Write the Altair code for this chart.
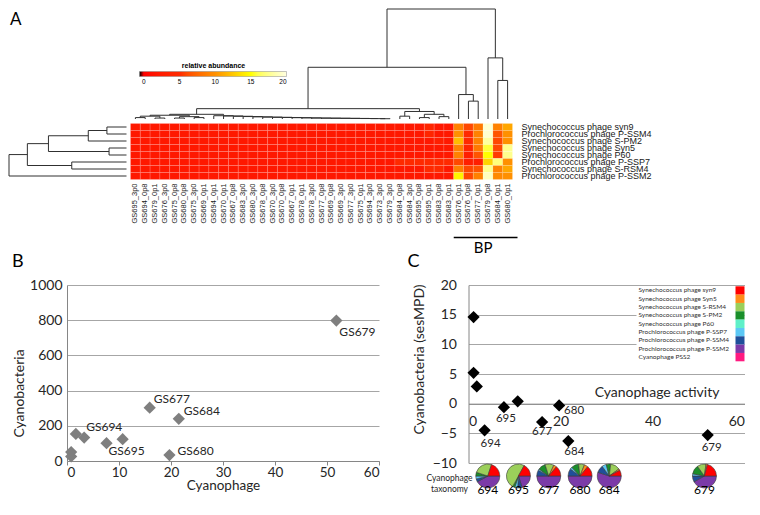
import altair as alt
import pandas as pd

# ---------------- DATA ----------------
phages = ["Synechococcus phage syn9", "Prochlorococcus phage P-SSM4", "Synechococcus phage S-PM2",
          "Synechococcus phage Syn5", "Synechococcus phage P60", "Prochlorococcus phage P-SSP7",
          "Synechococcus phage S-RSM4", "Prochlorococcus phage P-SSM2"]

samples = ["GS695_3p0", "GS694_0p8", "GS679_0p1", "GS676_3p0", "GS675_0p8", "GS680_0p8", "GS675_3p0",
           "GS669_0p1", "GS694_0p1", "GS670_0p1", "GS667_0p8", "GS683_3p0", "GS680_3p0", "GS678_0p8",
           "GS670_3p0", "GS670_0p8", "GS667_0p1", "GS678_0p1", "GS678_3p0", "GS677_0p8", "GS669_0p8",
           "GS669_3p0", "GS677_3p0", "GS675_0p1", "GS694_3p0", "GS673_3p0", "GS679_3p0", "GS684_0p8",
           "GS684_3p0", "GS695_0p8", "GS695_0p1", "GS683_0p8", "GS683_0p1", "GS676_0p1", "GS676_0p8",
           "GS677_0p1", "GS679_0p8", "GS684_0p1", "GS680_0p1"]

# relative abundance, one list per phage (row), 39 samples each
ab_syn9 =   [2, 2, 2, 2, 2, 2, 2, 2, 2, 2, 2, 2, 2, 2, 2, 2, 2, 2, 2, 2, 2, 2, 2, 2, 2, 2, 2, 2, 2, 2, 4, 2, 2, 9, 6, 8.5, 19.5, 9, 11]
ab_pssm4 =  [2, 2, 2, 2, 2, 2, 2, 2, 2, 2, 2, 2, 2, 2, 2, 2, 2, 2, 2, 2, 2, 2, 2, 2, 2, 2, 2, 2, 2, 2, 4, 2, 2, 10, 5, 9, 19.5, 6.5, 10]
ab_spm2 =   [2, 2, 2, 2, 2, 2, 2, 2, 2, 2, 2, 2, 2, 2, 2, 2, 2, 2, 2, 2, 2, 2, 2, 2, 2, 2, 2, 2, 2, 2, 2, 3, 2, 12, 5, 9, 18, 6, 10]
ab_syn5 =   [2, 2, 2, 2, 2, 2, 2, 2, 2, 2, 2, 2, 2, 2, 2, 2, 2, 2, 2, 2, 2, 2, 2, 2, 2, 2, 2, 2, 2, 2, 2, 2, 2, 9, 4, 8.5, 15.5, 6, 17.5]
ab_p60 =    [2, 2, 2, 2, 2, 2, 2, 2, 2, 2, 2, 2, 2, 2, 2, 2, 2, 2, 2, 2, 2, 2, 2, 2, 2, 2, 2, 2, 2, 2, 2, 2, 2, 9, 3, 6.5, 15, 5.5, 17.5]
ab_pssp7 =  [2, 2, 2, 2, 2, 2, 2, 2, 2, 2, 2, 2, 2, 2, 2, 2, 2, 2, 2, 2, 2, 2, 2, 2, 2, 2, 2, 5, 5, 5, 5, 5, 5, 6, 3, 3, 13, 17, 10]
ab_srsm4 =  [2, 2, 2, 2, 2, 2, 2, 2, 2, 2, 2, 2, 2, 2, 2, 2, 2, 2, 2, 2, 2, 2, 2, 2, 2, 2, 2, 2, 2, 2, 5, 5, 2, 9, 6, 6.5, 17.5, 9, 11]
ab_pssm2 =  [2, 2, 2, 2, 2, 2, 2, 2, 2, 2, 2, 2, 2, 2, 2, 2, 2, 2, 2, 2, 2, 2, 2, 2, 2, 2, 2, 2, 2, 2, 2, 2, 2, 14.5, 6, 9, 19, 9.5, 10]
abundance = [ab_syn9, ab_pssm4, ab_spm2, ab_syn5, ab_p60, ab_pssp7, ab_srsm4, ab_pssm2]

# dendrograms: [merge height, left, right]; ints are leaf indices
col_tree = [117,
            [55,
             [11,
              [5,
               [4, [3, [1.5, 0, 1], [1, 2, 3]], [2.5, [1, 4, 5], [1.5, 6, 7]]],
               [3.5, 8, [3.2, 9, [2.9, 10, [2.6, 11, [2.3, 12, [2.0, 13, [1.8, 14, [1.6, 15, [1.4, 16,
                [1.2, 17, [1.0, 18, [0.9, 19, [0.8, 20, [0.7, 21, [0.6, 22, [0.5, 23, [0.4, 24,
                 [0.3, 25, 26]]]]]]]]]]]]]]]]]]],
              [8, [3, 27, 28], [5, [1.5, 29, 30], [2.5, 31, 32]]]],
             [26, 33, [19, 34, 35]]],
            [65, 36, [41, 37, 38]]]
row_tree = [126, [106.3, [83.7, [41, [21, 0, 1], 2], [18.7, 3, 4]], [58.7, 5, 6]], 7]
bp_samples = samples[33:]

# panel B
b_phage = [51.8, 15.9, 21.5, 19.7, 10.7, 7.6, 1.7, 3.3, 0.8, 0.8]
b_bact = [798, 303, 240, 34, 124, 101, 154, 133, 51, 26]
b_site = ["GS679", "GS677", "GS684", "GS680", "", "GS695", "", "GS694", "", ""]

# panel C
c_activity = [1.1, 1.1, 1.8, 3.5, 7.7, 10.7, 16.0, 19.7, 21.7, 52.0]
c_sesmpd = [14.6, 5.2, 2.9, -4.5, -0.6, 0.4, -3.1, -0.3, -6.3, -5.3]
c_site = ["", "", "", "694", "695", "", "677", "680", "684", "679"]

taxa = ["Synechococcus phage syn9", "Synechococcus phage Syn5", "Synechococcus phage S-RSM4",
        "Synechococcus phage S-PM2", "Synechococcus phage P60", "Prochlorococcus phage P-SSP7",
        "Prochlorococcus phage P-SSM4", "Prochlorococcus phage P-SSM2", "Cyanophage PSS2"]
taxa_colors = ["#ff0000", "#ff8c1a", "#9bcf5a", "#1a8f2a", "#5ff0c8", "#5cc8f5", "#1f4f9a", "#7b3aa8", "#ff1a80"]

pie_sites = ["694", "695", "677", "680", "684", "679"]
pie_at = [4.2, 10.85, 17.45, 24.25, 30.6, 51.3]
# fractions in taxa order
pie_694 = [0.20, 0.00, 0.25, 0.05, 0.00, 0.04, 0.04, 0.42, 0.0]
pie_695 = [0.17, 0.00, 0.50, 0.03, 0.00, 0.04, 0.06, 0.20, 0.0]
pie_677 = [0.14, 0.04, 0.12, 0.10, 0.00, 0.02, 0.08, 0.50, 0.0]
pie_680 = [0.14, 0.05, 0.08, 0.10, 0.00, 0.03, 0.10, 0.50, 0.0]
pie_684 = [0.08, 0.02, 0.13, 0.06, 0.00, 0.06, 0.10, 0.55, 0.0]
pie_679 = [0.21, 0.02, 0.12, 0.12, 0.00, 0.03, 0.08, 0.42, 0.0]
pie_fracs = [pie_694, pie_695, pie_677, pie_680, pie_684, pie_679]

# ---------------- LAYOUT / STYLE ----------------
FONT = "Lato"
AFONT = "Liberation Sans"
W_A, H_A = 630, 276
HEAT_X = [63.5, 445.5]
HEAT_Y = [114.5, 170.5]
COLD_Y = [110, 0]
ROWD_X = [59.5, -58]
W_B, H_B = 312, 176
W_C, H_C = 276, 178
GAP_BC = 89.5
GRID = "#a6a6a6"
DOM = "#868686"
TXT = "#262626"
B_OFF = {"GS679": (3, 11), "GS677": (4, -9), "GS684": (5, -8), "GS680": (8, -4), "GS695": (2, 8), "GS694": (2, -11)}
C_OFF = {"694": (6, 14), "695": (2, 12), "677": (0, 10), "680": (15, 6), "684": (6, 11), "679": (4, 13)}

# ---------------- PANEL A ----------------
def seg_df(tree):
    rows = []

    def walk(node):
        if isinstance(node, int):
            return node + 0.5, 0.0
        h, left, right = node
        xl, hl = walk(left)
        xr, hr = walk(right)
        rows.append({"p0": xl, "p1": xl, "h0": hl, "h1": h})
        rows.append({"p0": xr, "p1": xr, "h0": hr, "h1": h})
        rows.append({"p0": xl, "p1": xr, "h0": h, "h1": h})
        return (xl + xr) / 2.0, h

    walk(tree)
    return pd.DataFrame(rows)


hrows = []
for r, vals in enumerate(abundance):
    for c, v in enumerate(vals):
        hrows.append({"c0": c, "c1": c + 1, "r0": r, "r1": r + 1, "v": v, "phage": phages[r], "sample": samples[c]})
hdf = pd.DataFrame(hrows)

xs = alt.Scale(domain=[0, len(samples)], range=HEAT_X, nice=False, zero=False)
ys = alt.Scale(domain=[0, len(phages)], range=HEAT_Y, nice=False, zero=False)

heat = alt.Chart(hdf).mark_rect(stroke="#ffffff", strokeWidth=0.4, strokeOpacity=0.35).encode(
    x=alt.X("c0:Q", scale=xs, axis=None), x2="c1",
    y=alt.Y("r0:Q", scale=ys, axis=None), y2="r1",
    color=alt.Color("v:Q",
                    scale=alt.Scale(domain=[-0.6, -0.05, 0, 5, 10, 15, 20],
                                    range=["#000000", "#000000", "#ff0000", "#ff2a00", "#ff9000", "#ffff00", "#ffffe0"]),
                    legend=alt.Legend(orient="none", legendX=72.5, legendY=52.5, direction="horizontal",
                                      gradientLength=147, gradientThickness=5, title="relative abundance",
                                      titleFontSize=7, titleFontWeight="bold", titleFont=AFONT, titleAnchor="middle",
                                      titlePadding=3, labelFontSize=6.5, labelFont=AFONT, values=[0, 5, 10, 15, 20],
                                      gradientStrokeWidth=0.5, gradientStrokeColor="#888")))

col_d = alt.Chart(seg_df(col_tree)).mark_rule(color="#303030", strokeWidth=1).encode(
    x=alt.X("p0:Q", scale=xs, axis=None), x2="p1",
    y=alt.Y("h0:Q", scale=alt.Scale(domain=[0, 117], range=COLD_Y, nice=False, zero=False), axis=None), y2="h1")

row_d = alt.Chart(seg_df(row_tree)).mark_rule(color="#303030", strokeWidth=1).encode(
    y=alt.Y("p0:Q", scale=ys, axis=None), y2="p1",
    x=alt.X("h0:Q", scale=alt.Scale(domain=[0, 126], range=ROWD_X, nice=False, zero=False), axis=None), x2="h1")

rl_df = pd.DataFrame({"name": phages, "rc": [i + 0.5 for i in range(len(phages))]})
row_lab = alt.Chart(rl_df).mark_text(align="left", baseline="middle", font=AFONT, fontSize=9, color="#202020").encode(
    x=alt.value(454.5), y=alt.Y("rc:Q", scale=ys, axis=None), text="name:N")

cl_df = pd.DataFrame({"name": samples, "cc": [i + 0.5 for i in range(len(samples))]})
col_lab = alt.Chart(cl_df).mark_text(align="right", baseline="middle", angle=270, font=AFONT, fontSize=7.5,
                                     color="#202020").encode(
    x=alt.X("cc:Q", scale=xs, axis=None), y=alt.value(174.5), text="name:N")

bp_df = pd.DataFrame({"b0": [samples.index(bp_samples[0])], "b1": [samples.index(bp_samples[-1]) + 1], "t": ["BP"]})
bp_rule = alt.Chart(bp_df).mark_rule(color="#000000", strokeWidth=1.6, x2Offset=5).encode(
    x=alt.X("b0:Q", scale=xs, axis=None), x2="b1", y=alt.value(228.5))
bp_text = alt.Chart(bp_df).transform_calculate(m="(datum.b0 + datum.b1) / 2").mark_text(
    font=FONT, fontSize=15, baseline="middle", color="#000").encode(
    x=alt.X("m:Q", scale=xs, axis=None), y=alt.value(238.5), text="t:N")

a_lab = alt.Chart(pd.DataFrame({"t": ["A"]})).mark_text(font=FONT, fontSize=17, align="left", baseline="middle",
                                                       color="#000").encode(
    x=alt.value(-57), y=alt.value(10.5), text="t:N")

panel_a = alt.layer(heat, col_d, row_d, row_lab, col_lab, bp_rule, bp_text, a_lab).resolve_scale(
    x="independent", y="independent").properties(width=W_A, height=H_A)

# ---------------- PANEL B ----------------
bdf = pd.DataFrame({"phage": b_phage, "bact": b_bact, "site": b_site})
bx = alt.X("phage:Q", scale=alt.Scale(domain=[0, 60], nice=False),
           axis=alt.Axis(values=[0, 10, 20, 30, 40, 50, 60], tickCount=20, format="d", title="Cyanophage",
                         grid=False, domainColor=DOM, tickColor=DOM, tickSize=4, labelPadding=0, titlePadding=0,
                         labelFontSize=13.5, titleFontSize=13.5, labelOverlap=False))
by = alt.Y("bact:Q", scale=alt.Scale(domain=[0, 1000], nice=False),
           axis=alt.Axis(values=[0, 200, 400, 600, 800, 1000], tickCount=20, format="d", title="Cyanobacteria",
                         grid=True, gridColor=GRID, domainColor=DOM, ticks=False, labelPadding=5, titlePadding=3,
                         labelFontSize=14, titleFontSize=14, labelOverlap=False, titleY=108))
b_pts = alt.Chart(bdf).mark_point(shape="diamond", filled=True, size=150, color="#7f7f7f", opacity=1).encode(x=bx, y=by)
b_layers = [b_pts]
for s in [s for s in b_site if s]:
    dx, dy = B_OFF[s]
    b_layers.append(alt.Chart(bdf[bdf.site == s]).mark_text(align="left", baseline="middle", dx=dx, dy=dy,
                                                             font=FONT, fontSize=12, color=TXT).encode(
        x="phage:Q", y="bact:Q", text="site:N"))
panel_b = alt.layer(*b_layers).properties(
    width=W_B, height=H_B,
    title=alt.TitleParams("B", anchor="start", frame="group", fontSize=18, font=FONT, fontWeight="normal",
                          dx=-55, offset=7, color="#000"))

# ---------------- PANEL C ----------------
cdf = pd.DataFrame({"act": c_activity, "ses": c_sesmpd, "site": c_site})
cx = alt.X("act:Q", scale=alt.Scale(domain=[0, 60], nice=False),
           axis=alt.Axis(values=[0, 20, 40, 60], tickCount=20, format="d", offset=-H_C / 3.0, grid=False,
                         ticks=False, domainColor=DOM, labelPadding=11, labelFontSize=14,
                         title="Cyanophage activity", titleFontSize=14, titleX=188, titleY=-4, titleAlign="center",
                         titleBaseline="bottom", labelOverlap=False))
cy = alt.Y("ses:Q", scale=alt.Scale(domain=[-10, 20], nice=False),
           axis=alt.Axis(values=[-10, -5, 0, 5, 10, 15, 20], tickCount=20, format="d",
                         title="Cyanobacteria (sesMPD)", grid=True, gridColor=GRID, domainColor=DOM, ticks=False,
                         labelPadding=12, titlePadding=6, labelFontSize=14, titleFontSize=14, labelOverlap=False,
                         titleY=74))
c_pts = alt.Chart(cdf).mark_point(shape="diamond", filled=True, size=150, color="#000000", opacity=1).encode(x=cx, y=cy)
c_layers = [c_pts]
for s in [s for s in c_site if s]:
    dx, dy = C_OFF[s]
    c_layers.append(alt.Chart(cdf[cdf.site == s]).mark_text(align="center", baseline="middle", dx=dx, dy=dy,
                                                             font=FONT, fontSize=11.5, color=TXT).encode(
        x="act:Q", y="ses:Q", text="site:N"))

# pies
prow = []
order = list(range(len(taxa)))[::-1]  # drawn clockwise from 3 o'clock, last taxon first
for site, at, fr in zip(pie_sites, pie_at, pie_fracs):
    ang = 3.141592653589793 / 2
    for k in order:
        f = fr[k]
        if f <= 0:
            continue
        a1 = ang + f * 2 * 3.141592653589793
        prow.append({"site": site, "act": at, "taxon": taxa[k], "t0": ang, "t1": a1})
        ang = a1
pdf = pd.DataFrame(prow)
pies = alt.Chart(pdf).mark_arc(radius=12, stroke="#3a3a3a", strokeWidth=0.6).encode(
    x=alt.X("act:Q", stack=None), y=alt.value(191),
    theta=alt.Theta("t0:Q", scale=None, stack=None), theta2="t1",
    color=alt.Color("taxon:N", scale=alt.Scale(domain=taxa, range=taxa_colors), legend=None))
pl_df = pd.DataFrame({"site": pie_sites, "act": pie_at})
pie_lab = alt.Chart(pl_df).mark_text(font=FONT, fontSize=12, baseline="middle", color="#000").encode(
    x="act:Q", y=alt.value(205), text="site:N")
tax_lab = alt.Chart(pd.DataFrame({"t": ["Cyanophage\ntaxonomy"]})).mark_text(
    font=FONT, fontSize=8.5, lineBreak="\n", lineHeight=10.5, baseline="middle", align="center", color=TXT).encode(
    x=alt.value(-19), y=alt.value(193), text="t:N")

box = alt.Chart(pd.DataFrame({"k": [0]})).mark_rect(color="#ffffff").encode(
    x=alt.value(168), x2=alt.value(W_C), y=alt.value(1), y2=alt.value(77))

main_c = alt.layer(*c_layers, pies, pie_lab, tax_lab)

ldf = pd.DataFrame({"taxon": taxa, "i0": list(range(len(taxa))), "i1": [i + 1 for i in range(len(taxa))],
                    "ic": [i + 0.5 for i in range(len(taxa))]})
lscale = alt.Scale(domain=[0, len(taxa)], range=[1.3, 76.3], nice=False, zero=False)
lsq = alt.Chart(ldf).mark_rect(opacity=1).encode(
    x=alt.value(W_C - 9), x2=alt.value(W_C), y=alt.Y("i0:Q", scale=lscale, axis=None), y2="i1",
    color=alt.Color("taxon:N", scale=alt.Scale(domain=taxa, range=taxa_colors), legend=None))
ltx = alt.Chart(ldf).mark_text(align="left", baseline="middle", font=FONT, fontSize=6.5, color="#303030").encode(
    x=alt.value(170), y=alt.Y("ic:Q", scale=lscale, axis=None), text="taxon:N")
legend_c = alt.layer(lsq, ltx)

panel_c = alt.layer(box, main_c, legend_c).resolve_scale(y="independent").properties(
    width=W_C, height=H_C,
    title=alt.TitleParams("C", anchor="start", frame="group", fontSize=18, font=FONT, fontWeight="normal",
                          dx=-61, offset=7, color="#000"))

bottom = alt.hconcat(panel_b, panel_c, spacing=GAP_BC, bounds="flush")
chart = alt.vconcat(panel_a, bottom, spacing=0, bounds="flush").properties(padding=0).configure_view(
    stroke=None).configure_axis(labelFont=FONT, titleFont=FONT, labelColor=TXT, titleColor=TXT,
                                titleFontWeight="normal")

chart.save("out.html", embed_options={"renderer": "svg", "actions": False})
